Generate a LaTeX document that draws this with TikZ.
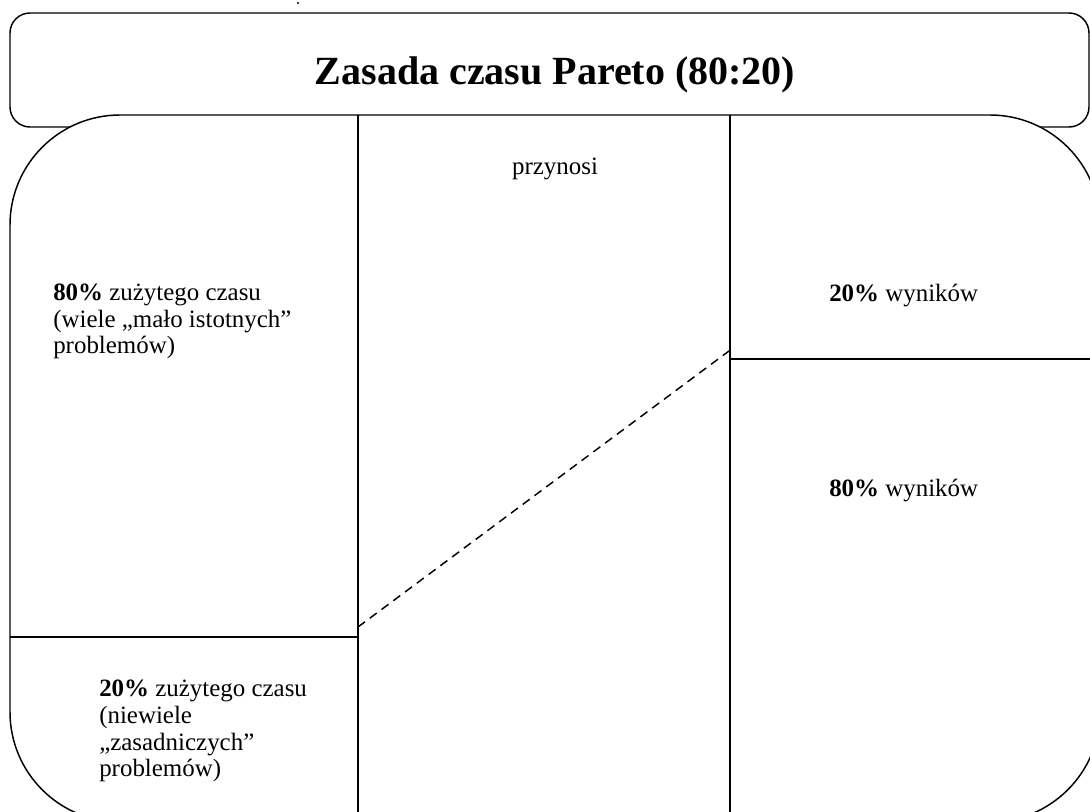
\documentclass[tikz,border=0pt]{standalone}
\usepackage{fontspec}
\setmainfont{Liberation Serif}
\begin{document}
\begin{tikzpicture}[x=0.75pt,y=-0.75pt,
  line/.style={line width=1.1pt},
  body/.style={font=\fontsize{18.7}{20}\selectfont, inner sep=0pt},
  blk/.style={body, align=left, anchor=base west},
  dashline/.style={line width=1.1pt, dash pattern=on 6.5pt off 4.5pt},
]
\useasboundingbox (0,0) rectangle (1090,812);
\begin{scope}
\clip (0,0) rectangle (1090,812);
% title box
\draw[line, fill=white, rounded corners=15pt] (10,13) rectangle (1089,127);
% big rounded frame
\draw[line, fill=white, rounded corners=82.5pt] (10,115) rectangle (1100,822);
% column dividers
\coordinate (v1t) at (358,115);
\coordinate (v1b) at (358,822);
\coordinate (v2t) at (730,115);
\coordinate (v2b) at (730,822);
\draw[line] (v1t) -- (v1b);
\draw[line] (v2t) -- (v2b);
% row dividers
\coordinate (h1l) at (10,637);
\coordinate (h1r) at (358,637);
\coordinate (h2l) at (730,359);
\coordinate (h2r) at (1100,359);
\draw[line] (h1l) -- (h1r);
\draw[line] (h2l) -- (h2r);
% dashed link
\coordinate (dl) at (358,627);
\coordinate (dr) at (729,351);
\draw[dashline] (dl) -- (dr);
\end{scope}
% tiny dot
\fill (298,3) circle (0.9pt);
% texts
\node[font=\fontsize{30}{36}\selectfont\bfseries, anchor=base, inner sep=0pt] (title) at (555,85) {Zasada czasu Pareto (80:20)};
\node[body, anchor=base] (przynosi) at (555,175) {przynosi};
\node[blk] (t80) at (53,354) {\textbf{80\%} zużytego czasu\\(wiele „mało istotnych”\\problemów)};
\node[blk] (t20) at (99,777) {\textbf{20\%} zużytego czasu\\(niewiele\\„zasadniczych”\\problemów)};
\node[blk] (w20) at (829,302) {\textbf{20\%} wyników};
\node[blk] (w80) at (829,497) {\textbf{80\%} wyników};
\end{tikzpicture}
\end{document}
